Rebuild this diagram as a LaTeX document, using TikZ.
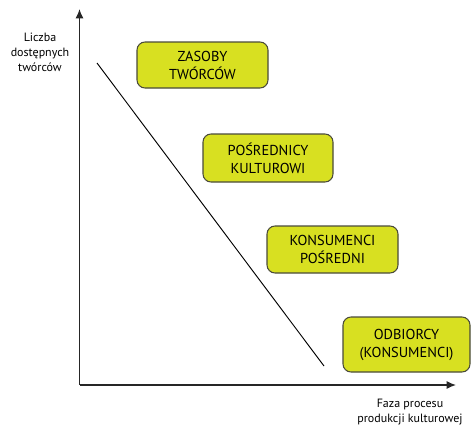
\documentclass[tikz,border=0pt]{standalone}
\usepackage{fontspec}
\setmainfont{PT Sans}
\usetikzlibrary{arrows.meta}
\definecolor{boxfill}{HTML}{D8E021}
\definecolor{boxline}{HTML}{4A4A3A}
\tikzset{
  stagebox/.style={draw=boxline, line width=0.8pt, fill=boxfill, rounded corners=6pt,
    minimum width=#1, minimum height=35pt, align=center, font=\fontsize{10.8pt}{13.5pt}\selectfont, inner sep=0pt},
  axis/.style={line width=0.9pt, draw=black!85, -{Latex[length=7pt,width=6pt]}},
  axislabel/.style={align=center, font=\fontsize{9pt}{11.2pt}\selectfont},
}
\begin{document}
\begin{tikzpicture}[x=0.75pt,y=-0.75pt]
\useasboundingbox (0,0) rectangle (472,425);
\coordinate (o) at (79.5,385);
\coordinate (ytop) at (79.5,9);
\coordinate (xend) at (456,385);
\draw[axis] (o) -- (ytop);
\draw[axis] (o) -- (xend);
\coordinate (d1) at (97,63);
\coordinate (d2) at (324,366);
\draw[line width=0.7pt] (d1) -- (d2);
\node[stagebox=131*0.75pt, minimum height=46*0.75pt] (zasoby) at (202.5,65) {ZASOBY\\TWÓRCÓW};
\node[stagebox=130*0.75pt, minimum height=48*0.75pt] (posr) at (268,158) {POŚREDNICY\\KULTUROWI};
\node[stagebox=131*0.75pt, minimum height=47*0.75pt] (kons) at (332.5,249.5) {KONSUMENCI\\POŚREDNI};
\node[stagebox=127*0.75pt, minimum height=55*0.75pt] (odb) at (406.5,344.5) {ODBIORCY\\(KONSUMENCI)};
\node[axislabel] (ylab) at (40,52) {Liczba\\dostępnych\\twórców};
\node[axislabel] (xlab) at (410,412) {Faza procesu\\produkcji kulturowej};
\end{tikzpicture}
\end{document}
